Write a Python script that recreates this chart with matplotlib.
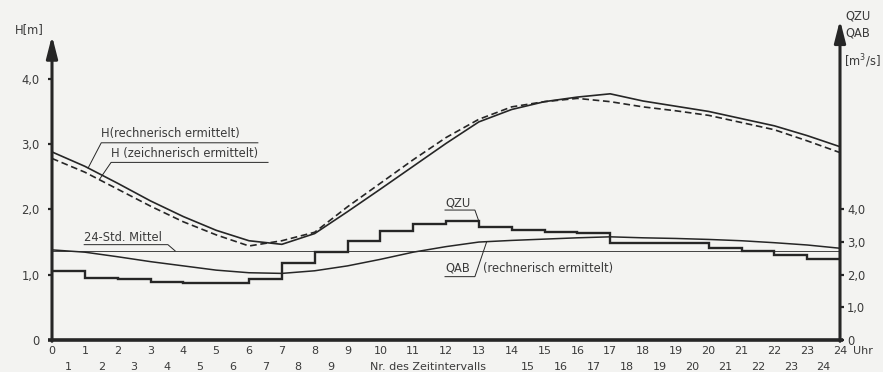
import numpy as np
from matplotlib import pyplot as plt

# Stunden (Uhr) und Nr. der Zeitintervalle
hours = np.arange(0, 25)
intervals = np.arange(1, 25)

h_rechnerisch = [2.88, 2.66, 2.40, 2.13, 1.89, 1.68, 1.52, 1.465, 1.63, 1.965, 2.31, 2.66, 3.01,
                 3.34, 3.53, 3.65, 3.72, 3.77, 3.66, 3.58, 3.50, 3.39, 3.28, 3.13, 2.96]
h_zeichnerisch = [2.78, 2.57, 2.31, 2.05, 1.81, 1.61, 1.44, 1.52, 1.65, 2.04, 2.40, 2.76, 3.10,
                  3.38, 3.57, 3.65, 3.70, 3.65, 3.57, 3.51, 3.44, 3.33, 3.22, 3.05, 2.87]

# Zufluss QZU je Zeitintervall [m3/s]
qzu = [2.11, 1.91, 1.86, 1.77, 1.74, 1.74, 1.87, 2.35, 2.69, 3.04, 3.33, 3.55,
       3.64, 3.47, 3.36, 3.30, 3.27, 2.98, 2.98, 2.98, 2.83, 2.74, 2.59, 2.49]
# Abfluss QAB (rechnerisch ermittelt) [m3/s]
qab = [2.76, 2.69, 2.55, 2.40, 2.27, 2.14, 2.06, 2.04, 2.12, 2.27, 2.47, 2.69, 2.86,
       3.00, 3.05, 3.09, 3.13, 3.16, 3.13, 3.11, 3.08, 3.04, 2.98, 2.91, 2.81]
q_mittel = 2.73

left_ticks = [0, 1, 2, 3, 4]
left_labels = ["0", "1,0", "2,0", "3,0", "4,0"]
right_ticks = [0, 1, 2, 3, 4]
right_labels = ["0", "1,0", "2,0", "3,0", "4,0"]

ink = "#262626"
txt = "#3a3a3a"
plt.rcParams['font.family'] = ['DejaVu Sans']
fs = 8.3
fs_x = 8.0

fig = plt.figure(figsize=(8.83, 3.72), dpi=100, facecolor="#f3f3f1")
H_TOP = 4.95
ax = fig.add_axes([52 / 883, 32 / 372, 788 / 883, H_TOP * 65.3 / 372])
ax.set_facecolor("none")
ax.set_xlim(0, 24)
ax.set_ylim(0, H_TOP)
ax2 = ax.twinx()
ax2.set_ylim(0, 2 * H_TOP)

for a in (ax, ax2):
    for s in a.spines.values():
        s.set_visible(False)

# Achsen mit Pfeilen
ax.plot([-0.12, 24.1], [0, 0], color=ink, lw=2.6, clip_on=False, solid_capstyle='butt')
ax.annotate("", xy=(0, 4.66), xytext=(0, -0.02), xycoords='data',
            arrowprops=dict(arrowstyle='-|>,head_length=1.1,head_width=0.28', lw=2.2,
                            color=ink, shrinkA=0, shrinkB=0, mutation_scale=12),
            annotation_clip=False)
ax.annotate("", xy=(24, 4.9), xytext=(24, -0.02), xycoords='data',
            arrowprops=dict(arrowstyle='-|>,head_length=1.1,head_width=0.28', lw=2.2,
                            color=ink, shrinkA=0, shrinkB=0, mutation_scale=12),
            annotation_clip=False)

# Ticks
ax.set_yticks(left_ticks)
ax.set_yticklabels(left_labels, fontsize=fs, color=txt)
ax.tick_params(axis='y', direction='out', length=3, width=1.6, color=ink, pad=6)
ax2.set_yticks(right_ticks)
ax2.set_yticklabels(right_labels, fontsize=fs, color=txt)
ax2.tick_params(axis='y', direction='out', length=3, width=1.6, color=ink, pad=2)

ax.set_xticks(hours)
ax.set_xticklabels([str(h) for h in hours], fontsize=fs_x, color=txt)
ax.tick_params(axis='x', length=0, pad=4.5)

for i in intervals:
    if 10 <= i <= 14:
        continue
    ax.annotate(str(i), xy=(i - 0.5, 0), xycoords=('data', 'axes fraction'),
                xytext=(0, -27), textcoords='offset pixels', ha='center', va='center',
                fontsize=fs_x, color=txt, annotation_clip=False)
ax.annotate("Nr. des Zeitintervalls", xy=(11.45, 0), xycoords=('data', 'axes fraction'),
            xytext=(0, -27), textcoords='offset pixels', ha='center', va='center',
            fontsize=fs_x, color=txt, annotation_clip=False)
ax.annotate("Uhr", xy=(24, 0), xycoords=('data', 'axes fraction'),
            xytext=(23, -11), textcoords='offset pixels', ha='center', va='center',
            fontsize=fs_x, color=txt, annotation_clip=False)

fig.text(29 / 883, 1 - 30 / 372, "H[m]", ha='center', va='center', fontsize=fs, color=txt)
fig.text(858 / 883, 1 - 16 / 372, "QZU", ha='center', va='center', fontsize=fs, color=txt)
fig.text(858 / 883, 1 - 33 / 372, "QAB", ha='center', va='center', fontsize=fs, color=txt)
fig.text(862 / 883, 1 - 61 / 372, "[m$^3$/s]", ha='center', va='center', fontsize=fs, color=txt)

# Kurven
ax.plot(hours, h_rechnerisch, color=ink, lw=1.2)
ax.plot(hours, h_zeichnerisch, color=ink, lw=1.2, linestyle=(0, (4, 2.2)))
ax2.stairs(qzu, hours, color=ink, lw=1.7, baseline=None)
ax2.plot(hours, qab, color=ink, lw=1.1)
ax2.axhline(q_mittel, color=ink, lw=0.6)


def beschriftung(axis, text, x0, x1, y_text, y_line, ziel, vom_ende=True):
    axis.text(x0, y_text, text, ha='left', va='center', fontsize=fs, color=txt)
    if vom_ende:
        xs, ys = [x0, x1, ziel[0]], [y_line, y_line, ziel[1]]
    else:
        xs, ys = [x1, x0, ziel[0]], [y_line, y_line, ziel[1]]
    axis.plot(xs, ys, color=ink, lw=0.7)


beschriftung(ax, "H(rechnerisch ermittelt)", 1.5, 6.27, 3.16, 3.02,
             (1.1, np.interp(1.1, hours, h_rechnerisch)), vom_ende=False)
beschriftung(ax, "H (zeichnerisch ermittelt)", 1.8, 6.58, 2.85, 2.72,
             (1.44, np.interp(1.44, hours, h_zeichnerisch)), vom_ende=False)
beschriftung(ax2, "24-Std. Mittel", 0.98, 3.53, 3.14, 2.92, (3.75, q_mittel))
beschriftung(ax2, "QZU", 11.97, 12.88, 4.21, 3.98, (13.0, qzu[12]))
beschriftung(ax2, "QAB", 11.97, 12.88, 2.2, 1.94, (13.24, np.interp(13.24, hours, qab)))
ax2.text(13.13, 2.2, "(rechnerisch ermittelt)", ha='left', va='center', fontsize=fs, color=txt)

fig.savefig("out.png", dpi=100, facecolor=fig.get_facecolor())
